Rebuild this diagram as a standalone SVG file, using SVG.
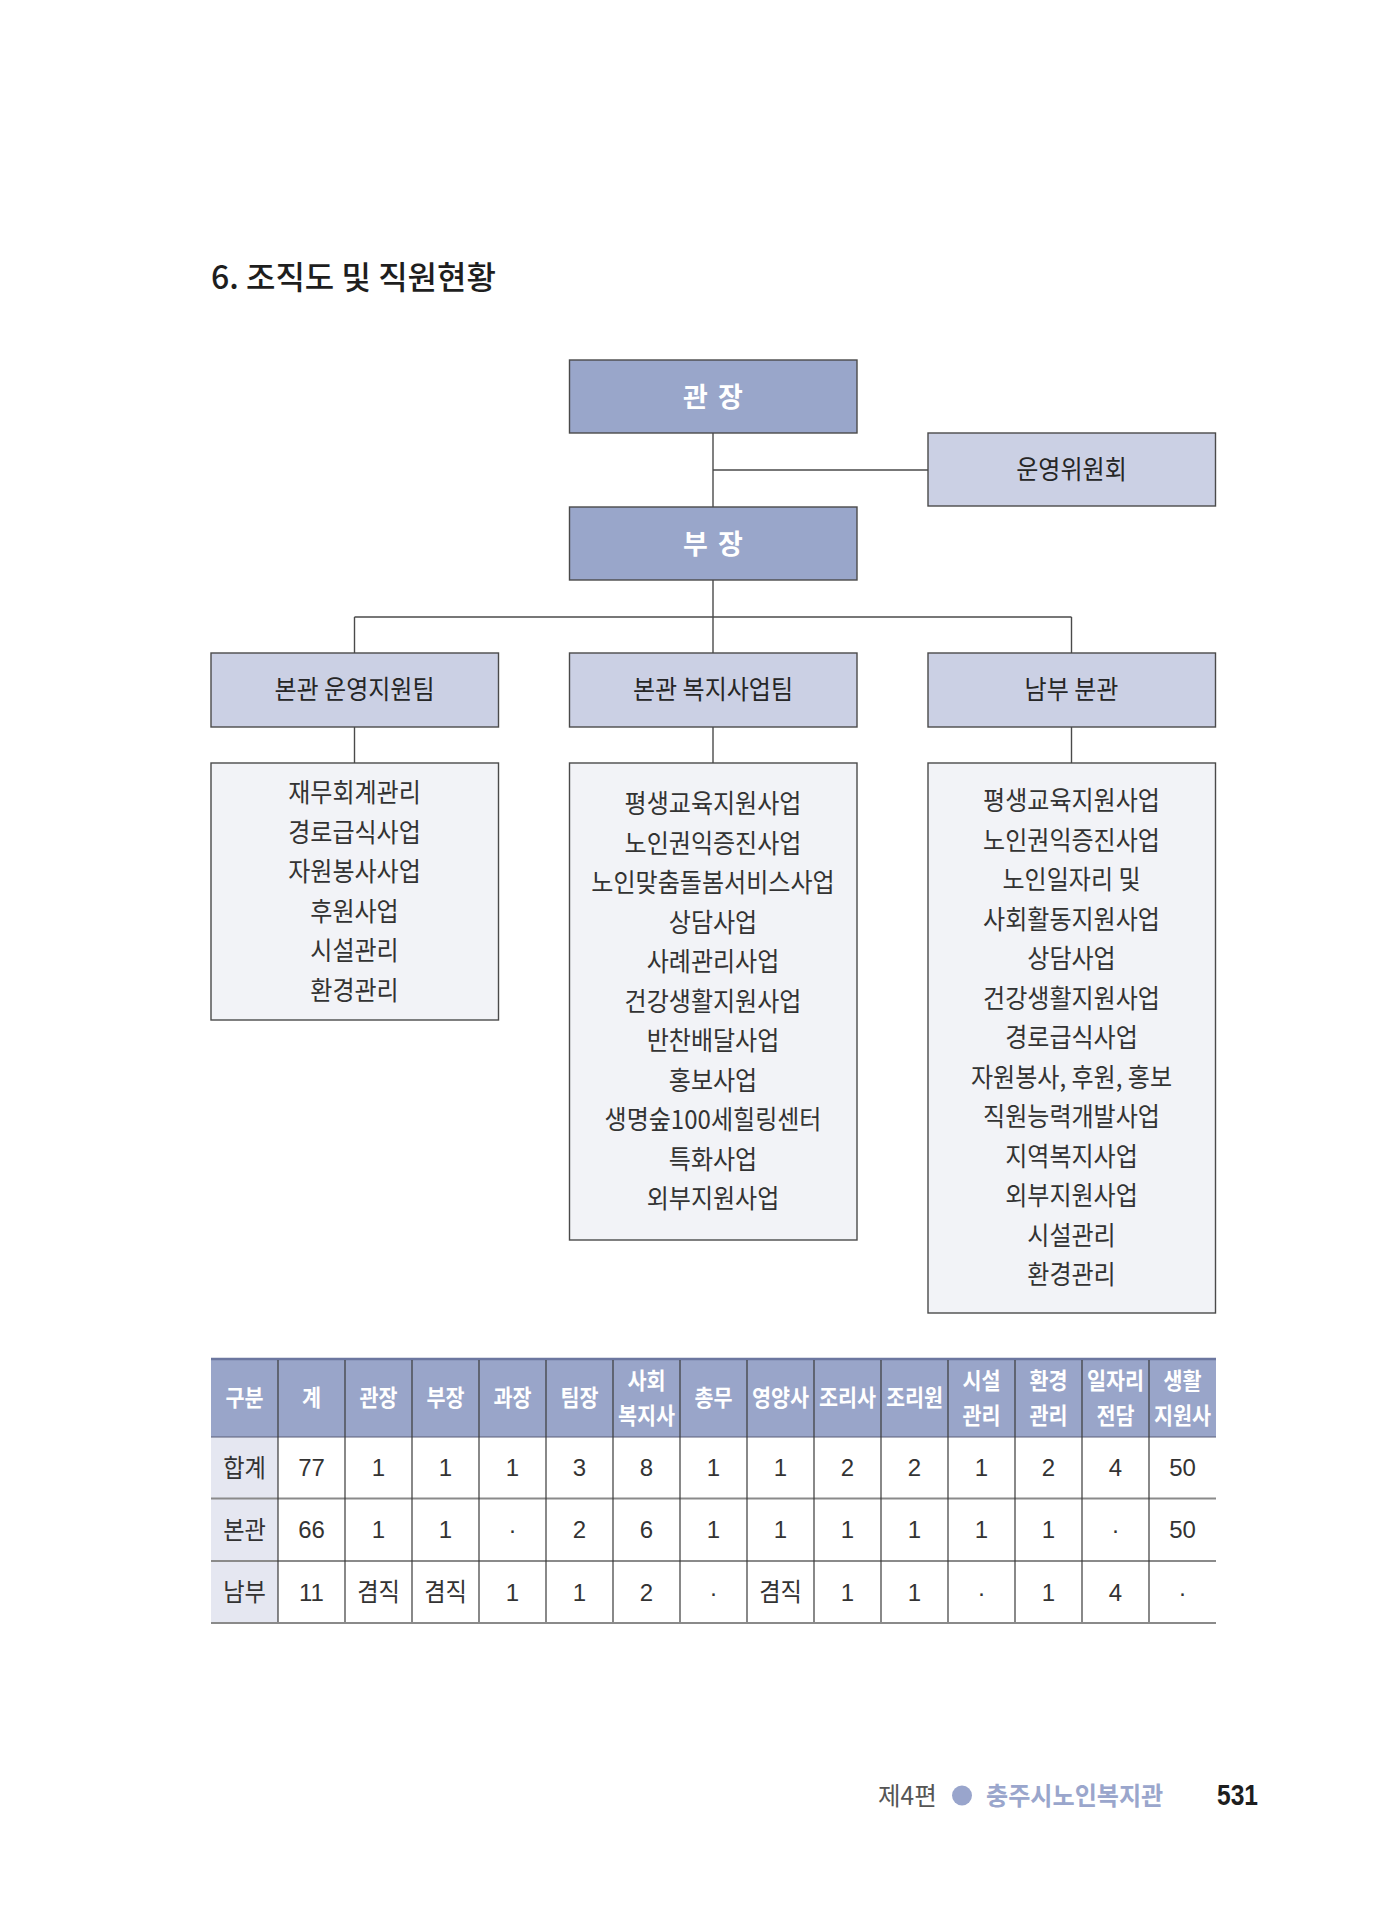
<svg xmlns="http://www.w3.org/2000/svg" width="1397" height="1920" viewBox="0 0 1397 1920">
<style>
.kr{font-family:"Noto Sans CJK KR","Noto Sans",sans-serif}
.title{font-family:"Noto Sans CJK KR",sans-serif;font-size:32px;font-weight:500;fill:#1e1e1e}
.boxTop{fill:#99a6ca;stroke:#4a4a4a;stroke-width:1.4}
.boxMid{fill:#cbd0e4;stroke:#4a4a4a;stroke-width:1.4}
.boxList{fill:#f2f3f7;stroke:#4a4a4a;stroke-width:1.4}
.topLbl{font-family:"Noto Sans CJK KR",sans-serif;font-size:27px;font-weight:700;fill:#ffffff;text-anchor:middle;letter-spacing:2px}
.lbl{font-family:"Noto Sans CJK KR",sans-serif;font-size:26px;fill:#262626;text-anchor:middle}
.item{font-family:"Noto Sans CJK KR",sans-serif;font-size:26px;fill:#333333;text-anchor:middle}
.conn{stroke:#4a4a4a;stroke-width:1.4;fill:none}
.th{font-family:"Noto Sans CJK KR",sans-serif;font-size:23px;font-weight:700;fill:#ffffff;text-anchor:middle}
.tdk{font-family:"Noto Sans CJK KR",sans-serif;font-size:25px;fill:#333333;text-anchor:middle}
.tdn{font-family:"Liberation Sans",Arial,sans-serif;font-size:24px;fill:#333333;text-anchor:middle}
.vline{stroke:#3a3a3a;stroke-width:1.2}
.hline{stroke:#8a8a8a;stroke-width:2}
</style>

<g id="title">
<text class="title" x="211" y="289">6. 조직도 및 직원현황</text>
</g>

<g id="connectors">
<line class="conn" x1="713" y1="433" x2="713" y2="507"/>
<line class="conn" x1="713" y1="470" x2="928" y2="470"/>
<line class="conn" x1="713" y1="580" x2="713" y2="653"/>
<line class="conn" x1="354.5" y1="617" x2="1071.5" y2="617"/>
<line class="conn" x1="354.5" y1="617" x2="354.5" y2="653"/>
<line class="conn" x1="1071.5" y1="617" x2="1071.5" y2="653"/>
<line class="conn" x1="354.5" y1="727" x2="354.5" y2="763"/>
<line class="conn" x1="713" y1="727" x2="713" y2="763"/>
<line class="conn" x1="1071.5" y1="727" x2="1071.5" y2="763"/>
</g>

<g id="node-gwanjang">
<rect class="boxTop" x="569.5" y="360" width="287.5" height="73"/>
<text class="topLbl" x="714" y="407">관 장</text>
</g>

<g id="node-committee">
<rect class="boxMid" x="928" y="433" width="287.5" height="73"/>
<text class="lbl" transform="matrix(.925 0 0 1 1071.5 0)" x="0" y="479.5">운영위원회</text>
</g>

<g id="node-bujang">
<rect class="boxTop" x="569.5" y="507" width="287.5" height="73"/>
<text class="topLbl" x="714" y="554">부 장</text>
</g>

<g id="node-team1">
<rect class="boxMid" x="211" y="653" width="287.5" height="74"/>
<text class="lbl" transform="matrix(.925 0 0 1 354.5 0)" x="0" y="699.5">본관 운영지원팀</text>
</g>

<g id="node-team2">
<rect class="boxMid" x="569.5" y="653" width="287.5" height="74"/>
<text class="lbl" transform="matrix(.925 0 0 1 713 0)" x="0" y="699.5">본관 복지사업팀</text>
</g>

<g id="node-team3">
<rect class="boxMid" x="928" y="653" width="287.5" height="74"/>
<text class="lbl" transform="matrix(.925 0 0 1 1071.5 0)" x="0" y="699.5">남부 분관</text>
</g>

<g id="node-list1">
<rect class="boxList" x="211" y="763" width="287.5" height="257"/>
<g transform="matrix(.925 0 0 1 354.5 0)">
<text class="item" x="0" y="802.5">재무회계관리</text>
<text class="item" x="0" y="842">경로급식사업</text>
<text class="item" x="0" y="881.5">자원봉사사업</text>
<text class="item" x="0" y="921">후원사업</text>
<text class="item" x="0" y="960.5">시설관리</text>
<text class="item" x="0" y="1000">환경관리</text>
</g>
</g>

<g id="node-list2">
<rect class="boxList" x="569.5" y="763" width="287.5" height="477"/>
<g transform="matrix(.925 0 0 1 713 0)">
<text class="item" x="0" y="813.5">평생교육지원사업</text>
<text class="item" x="0" y="853">노인권익증진사업</text>
<text class="item" x="0" y="892.5">노인맞춤돌봄서비스사업</text>
<text class="item" x="0" y="932">상담사업</text>
<text class="item" x="0" y="971.5">사례관리사업</text>
<text class="item" x="0" y="1011">건강생활지원사업</text>
<text class="item" x="0" y="1050.5">반찬배달사업</text>
<text class="item" x="0" y="1090">홍보사업</text>
<text class="item" x="0" y="1129.5">생명숲100세힐링센터</text>
<text class="item" x="0" y="1169">특화사업</text>
<text class="item" x="0" y="1208.5">외부지원사업</text>
</g>
</g>

<g id="node-list3">
<rect class="boxList" x="928" y="763" width="287.5" height="550"/>
<g transform="matrix(.925 0 0 1 1071.5 0)">
<text class="item" x="0" y="810.5">평생교육지원사업</text>
<text class="item" x="0" y="850">노인권익증진사업</text>
<text class="item" x="0" y="889.5">노인일자리 및</text>
<text class="item" x="0" y="929">사회활동지원사업</text>
<text class="item" x="0" y="968.5">상담사업</text>
<text class="item" x="0" y="1008">건강생활지원사업</text>
<text class="item" x="0" y="1047.5">경로급식사업</text>
<text class="item" x="0" y="1087">자원봉사, 후원, 홍보</text>
<text class="item" x="0" y="1126.5">직원능력개발사업</text>
<text class="item" x="0" y="1166">지역복지사업</text>
<text class="item" x="0" y="1205.5">외부지원사업</text>
<text class="item" x="0" y="1245">시설관리</text>
<text class="item" x="0" y="1284.5">환경관리</text>
</g>
</g>

<g id="table">
<rect x="211" y="1359" width="1005" height="78" fill="#99a5c9"/>
<rect x="211" y="1437" width="67" height="186" fill="#e5e7f1"/>
<line x1="211" y1="1359" x2="1216" y2="1359" stroke="#6c77a0" stroke-width="2.5"/>
<line x1="211" y1="1437" x2="1216" y2="1437" stroke="#5a5f78" stroke-width="1.2"/>
<line class="hline" x1="211" y1="1498.5" x2="1216" y2="1498.5"/>
<line class="hline" x1="211" y1="1561" x2="1216" y2="1561"/>
<line class="hline" x1="211" y1="1623" x2="1216" y2="1623"/>
<g>
<line class="vline" x1="278" y1="1360" x2="278" y2="1622"/>
<line class="vline" x1="345" y1="1360" x2="345" y2="1622"/>
<line class="vline" x1="412" y1="1360" x2="412" y2="1622"/>
<line class="vline" x1="479" y1="1360" x2="479" y2="1622"/>
<line class="vline" x1="546" y1="1360" x2="546" y2="1622"/>
<line class="vline" x1="613" y1="1360" x2="613" y2="1622"/>
<line class="vline" x1="680" y1="1360" x2="680" y2="1622"/>
<line class="vline" x1="747" y1="1360" x2="747" y2="1622"/>
<line class="vline" x1="814" y1="1360" x2="814" y2="1622"/>
<line class="vline" x1="881" y1="1360" x2="881" y2="1622"/>
<line class="vline" x1="948" y1="1360" x2="948" y2="1622"/>
<line class="vline" x1="1015" y1="1360" x2="1015" y2="1622"/>
<line class="vline" x1="1082" y1="1360" x2="1082" y2="1622"/>
<line class="vline" x1="1149" y1="1360" x2="1149" y2="1622"/>
</g>
<g id="table-head">
<text class="th" transform="matrix(.9 0 0 1 244.5 0)" x="0" y="1406.5">구분</text>
<text class="th" transform="matrix(.9 0 0 1 311.5 0)" x="0" y="1406.5">계</text>
<text class="th" transform="matrix(.9 0 0 1 378.5 0)" x="0" y="1406.5">관장</text>
<text class="th" transform="matrix(.9 0 0 1 445.5 0)" x="0" y="1406.5">부장</text>
<text class="th" transform="matrix(.9 0 0 1 512.5 0)" x="0" y="1406.5">과장</text>
<text class="th" transform="matrix(.9 0 0 1 579.5 0)" x="0" y="1406.5">팀장</text>
<text class="th" transform="matrix(.9 0 0 1 646.5 0)" x="0" y="1389.5">사회</text>
<text class="th" transform="matrix(.9 0 0 1 646.5 0)" x="0" y="1424.5">복지사</text>
<text class="th" transform="matrix(.9 0 0 1 713.5 0)" x="0" y="1406.5">총무</text>
<text class="th" transform="matrix(.9 0 0 1 780.5 0)" x="0" y="1406.5">영양사</text>
<text class="th" transform="matrix(.9 0 0 1 847.5 0)" x="0" y="1406.5">조리사</text>
<text class="th" transform="matrix(.9 0 0 1 914.5 0)" x="0" y="1406.5">조리원</text>
<text class="th" transform="matrix(.9 0 0 1 981.5 0)" x="0" y="1389.5">시설</text>
<text class="th" transform="matrix(.9 0 0 1 981.5 0)" x="0" y="1424.5">관리</text>
<text class="th" transform="matrix(.9 0 0 1 1048.5 0)" x="0" y="1389.5">환경</text>
<text class="th" transform="matrix(.9 0 0 1 1048.5 0)" x="0" y="1424.5">관리</text>
<text class="th" transform="matrix(.9 0 0 1 1115.5 0)" x="0" y="1389.5">일자리</text>
<text class="th" transform="matrix(.9 0 0 1 1115.5 0)" x="0" y="1424.5">전담</text>
<text class="th" transform="matrix(.9 0 0 1 1182.5 0)" x="0" y="1389.5">생활</text>
<text class="th" transform="matrix(.9 0 0 1 1182.5 0)" x="0" y="1424.5">지원사</text>
</g>
<g id="table-row1">
<text class="tdk" transform="matrix(.93 0 0 1 244.5 0)" x="0" y="1477">합계</text>
<text class="tdn" x="311.5" y="1476">77</text>
<text class="tdn" x="378.5" y="1476">1</text>
<text class="tdn" x="445.5" y="1476">1</text>
<text class="tdn" x="512.5" y="1476">1</text>
<text class="tdn" x="579.5" y="1476">3</text>
<text class="tdn" x="646.5" y="1476">8</text>
<text class="tdn" x="713.5" y="1476">1</text>
<text class="tdn" x="780.5" y="1476">1</text>
<text class="tdn" x="847.5" y="1476">2</text>
<text class="tdn" x="914.5" y="1476">2</text>
<text class="tdn" x="981.5" y="1476">1</text>
<text class="tdn" x="1048.5" y="1476">2</text>
<text class="tdn" x="1115.5" y="1476">4</text>
<text class="tdn" x="1182.5" y="1476">50</text>
</g>
<g id="table-row2">
<text class="tdk" transform="matrix(.93 0 0 1 244.5 0)" x="0" y="1539">본관</text>
<text class="tdn" x="311.5" y="1538">66</text>
<text class="tdn" x="378.5" y="1538">1</text>
<text class="tdn" x="445.5" y="1538">1</text>
<text class="tdn" x="512.5" y="1538">·</text>
<text class="tdn" x="579.5" y="1538">2</text>
<text class="tdn" x="646.5" y="1538">6</text>
<text class="tdn" x="713.5" y="1538">1</text>
<text class="tdn" x="780.5" y="1538">1</text>
<text class="tdn" x="847.5" y="1538">1</text>
<text class="tdn" x="914.5" y="1538">1</text>
<text class="tdn" x="981.5" y="1538">1</text>
<text class="tdn" x="1048.5" y="1538">1</text>
<text class="tdn" x="1115.5" y="1538">·</text>
<text class="tdn" x="1182.5" y="1538">50</text>
</g>
<g id="table-row3">
<text class="tdk" transform="matrix(.93 0 0 1 244.5 0)" x="0" y="1601.5">남부</text>
<text class="tdn" x="311.5" y="1600.5">11</text>
<text class="tdk" transform="matrix(.93 0 0 1 378.5 0)" x="0" y="1601.5">겸직</text>
<text class="tdk" transform="matrix(.93 0 0 1 445.5 0)" x="0" y="1601.5">겸직</text>
<text class="tdn" x="512.5" y="1600.5">1</text>
<text class="tdn" x="579.5" y="1600.5">1</text>
<text class="tdn" x="646.5" y="1600.5">2</text>
<text class="tdn" x="713.5" y="1600.5">·</text>
<text class="tdk" transform="matrix(.93 0 0 1 780.5 0)" x="0" y="1601.5">겸직</text>
<text class="tdn" x="847.5" y="1600.5">1</text>
<text class="tdn" x="914.5" y="1600.5">1</text>
<text class="tdn" x="981.5" y="1600.5">·</text>
<text class="tdn" x="1048.5" y="1600.5">1</text>
<text class="tdn" x="1115.5" y="1600.5">4</text>
<text class="tdn" x="1182.5" y="1600.5">·</text>
</g>
</g>

<g id="footer">
<text class="kr" transform="matrix(.98 0 0 1 878 0)" x="0" y="1805" font-size="25" fill="#555555">제4편</text>
<circle cx="962" cy="1795.5" r="10" fill="#99a5cc"/>
<text class="kr" transform="matrix(.945 0 0 1 986 0)" x="0" y="1805" font-size="25.5" font-weight="700" fill="#9aa6cc">충주시노인복지관</text>
<text x="1217" y="1805" font-family="'Liberation Sans',Arial,sans-serif" font-size="29" font-weight="700" fill="#1e1e1e" textLength="41" lengthAdjust="spacingAndGlyphs">531</text>
</g>
</svg>
